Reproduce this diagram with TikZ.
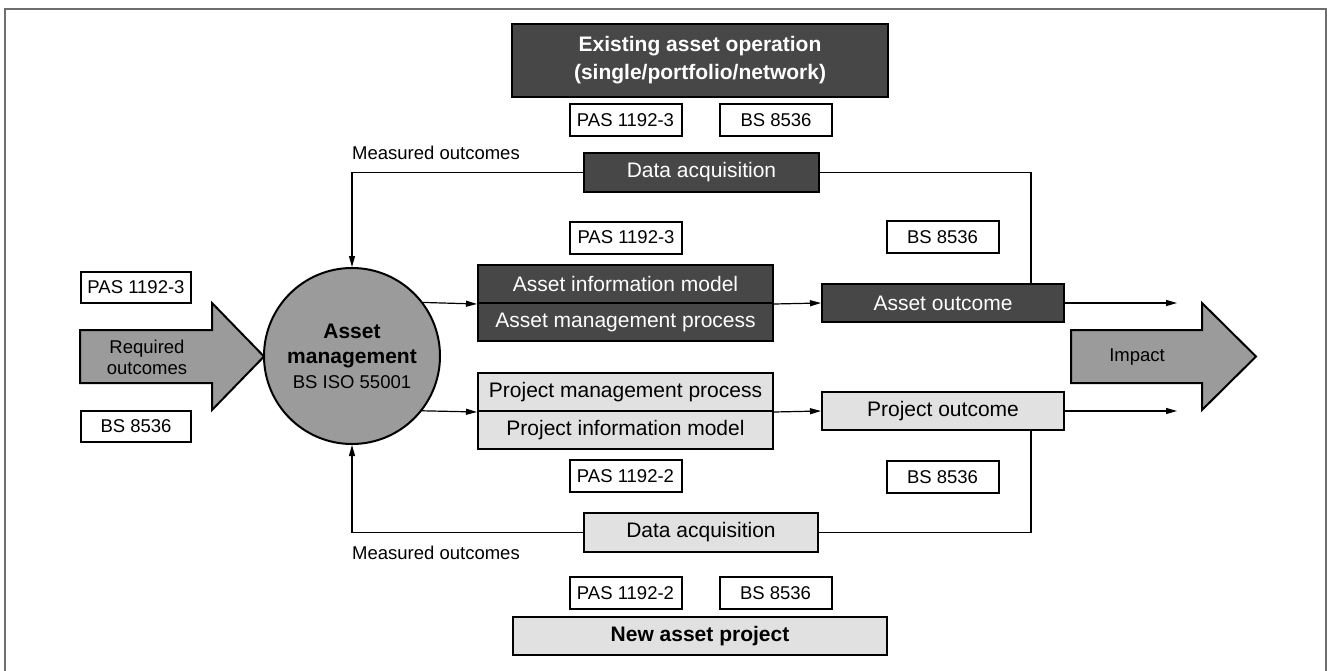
\documentclass[tikz,border=0pt]{standalone}
\usepackage{fontspec}
\setmainfont{Liberation Sans}
\usetikzlibrary{arrows.meta}
\definecolor{darkgrey}{HTML}{474747}
\definecolor{lightgrey}{HTML}{E1E1E1}
\definecolor{midgrey}{HTML}{9B9B9B}
\definecolor{framegrey}{HTML}{6E6E6E}
\newcommand{\fssmall}{\fontsize{18.5}{21}\selectfont}
\newcommand{\fsbig}{\fontsize{21}{25}\selectfont}

\begin{document}
\begin{tikzpicture}[x=1pt, y=-1pt,
    standard/.style={draw, line width=2pt, fill=white, inner sep=0pt,
      minimum width=112pt, minimum height=32pt, font=\fssmall},
    darkbox/.style={draw, line width=2pt, fill=darkgrey, text=white,
      inner sep=0pt, minimum height=38pt, font=\fsbig},
    lightbox/.style={draw, line width=2pt, fill=lightgrey,
      inner sep=0pt, minimum height=38pt, font=\fsbig},
    bigarrow/.style={draw, line width=2pt, fill=midgrey, line join=miter},
    link/.style={line width=1.2pt, -{Triangle[length=11pt,width=6pt]}},
    plain/.style={line width=1.2pt},
    note/.style={font=\fssmall, anchor=west, inner sep=0pt}]
  \useasboundingbox (0,0) rectangle (1327,671);
  \draw[framegrey, line width=2pt] (5,671) -- (5,9) -- (1326,9) -- (1326,671);

  % existing asset operation
  \node[darkbox, minimum width=376pt, minimum height=73pt, align=center,
    font=\fontsize{21}{28}\selectfont\bfseries] (exist) at (700,60.5)
    {Existing asset operation\\(single/portfolio/network)};
  \node[standard] (pastop) at (625.5,120.5) {PAS 1192-3};
  \node[standard] (bstop) at (776,120.5) {BS 8536};
  \node[darkbox, minimum width=235pt, minimum height=39pt] (dataop) at (701.5,172.5) {Data acquisition};
  \node[note] (measop) at (352,153) {Measured outcomes};

  % required outcomes
  \node[standard, minimum width=110pt, minimum height=31pt] (pasreq) at (136,287.5) {PAS 1192-3};
  \node[standard, minimum width=110pt, minimum height=31pt] (bsreq) at (136,426) {BS 8536};
  \draw[bigarrow] (80,330) -- (212,330) -- (212,303) -- (264,356.5) -- (212,410)
    -- (212,383) -- (80,383) -- cycle;
  \node[font=\fssmall, align=center] (req) at (147,357) {Required\\outcomes};

  % asset management
  \node[circle, draw, line width=2pt, fill=midgrey, minimum size=176pt,
    inner sep=0pt, align=center, font=\fsbig] (am) at (352,356)
    {\textbf{Asset}\\\textbf{management}\\{\fssmall BS ISO 55001}};

  % asset path
  \node[standard] (pasaim) at (626,237.5) {PAS 1192-3};
  \node[darkbox, minimum width=295pt] (aim) at (625.5,284) {Asset information model};
  \node[darkbox, minimum width=295pt] (amp) at (625.5,322) {Asset management process};
  \node[standard] (bsaout) at (942.5,237) {BS 8536};
  \node[darkbox, minimum width=242pt] (aout) at (943,303) {Asset outcome};

  % project path
  \node[lightbox, minimum width=295pt] (pmp) at (625.5,392) {Project management process};
  \node[lightbox, minimum width=295pt] (pim) at (625.5,430) {Project information model};
  \node[lightbox, minimum width=242pt] (pout) at (943,411) {Project outcome};
  \node[standard] (paspim) at (625.5,476) {PAS 1192-2};
  \node[standard] (bspout) at (942.5,477) {BS 8536};

  % new asset project
  \node[lightbox, minimum width=234pt, minimum height=39pt] (datanew) at (701,532.5) {Data acquisition};
  \node[note] (measnew) at (352,553) {Measured outcomes};
  \node[standard] (pasnew) at (625.5,593) {PAS 1192-2};
  \node[standard] (bsnew) at (775.5,593) {BS 8536};
  \node[lightbox, minimum width=374pt, font=\fsbig\bfseries] (newap) at (700,636) {New asset project};

  % impact
  \draw[bigarrow] (1071,330) -- (1202,330) -- (1202,303) -- (1256,356.5) -- (1202,410)
    -- (1202,383) -- (1071,383) -- cycle;
  \node[font=\fssmall] (impact) at (1137,357) {Impact};

  % connectors
  \coordinate (aend) at (1177,303);
  \coordinate (pend) at (1177,411);
  \coordinate (optop) at (1031,172.5);
  \coordinate (newbot) at (1031,532.5);
  \draw[link] (am.37) -- (aim.south west);
  \draw[link] (am.-38.7) -- (pmp.south west);
  \draw[link] (aim.south east) -- (aout.west);
  \draw[link] (pmp.south east) -- (pout.west);
  \draw[link] (aout.east) -- (aend);
  \draw[link] (pout.east) -- (pend);
  \draw[link] (dataop.west) -| (am.north);
  \draw[link] (datanew.west) -| (am.south);
  \draw[plain] (dataop.east) -- (optop) -- (optop |- aout.north);
  \draw[plain] (datanew.east) -- (newbot) -- (newbot |- pout.south);
\end{tikzpicture}
\end{document}
